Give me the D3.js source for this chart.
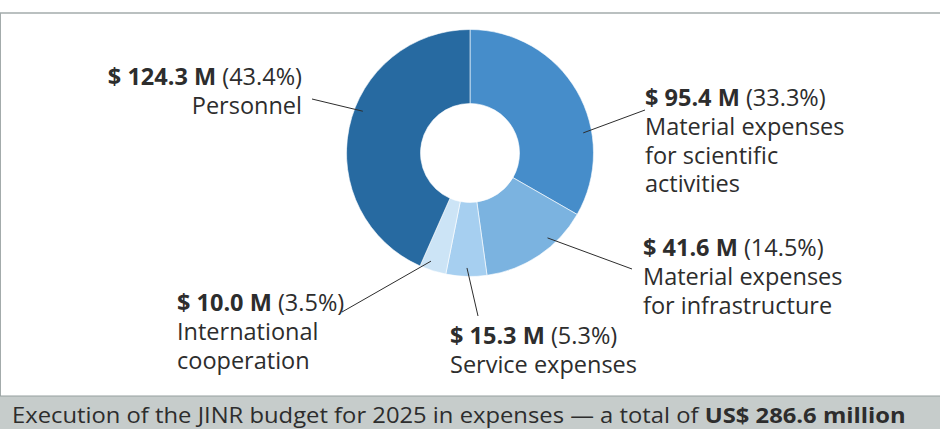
<!DOCTYPE html>
<html>
<head>
<meta charset="utf-8">
<script src="https://cdn.jsdelivr.net/npm/d3@7"></script>
<style>
  html, body { margin: 0; padding: 0; background: #fff; }
  svg { display: block; }
  text { font-family: "Open Sans", sans-serif; fill: #2d2d2d; }
</style>
</head>
<body>
<svg id="chart" width="940" height="429"></svg>
<script>
// Budget execution by expense category, US$ million (clockwise from 12 o'clock)
const categories = ["scientific", "infrastructure", "service", "international", "personnel"];
const values = [95.4, 41.6, 15.3, 10.0, 124.3];
const shares = ["33.3%", "14.5%", "5.3%", "3.5%", "43.4%"];
const valueLabels = ["$ 95.4 M", "$ 41.6 M", "$ 15.3 M", "$ 10.0 M", "$ 124.3 M"];
const nameLines = [
  ["Material expenses", "for scientific", "activities"],
  ["Material expenses", "for infrastructure"],
  ["Service expenses"],
  ["International", "cooperation"],
  ["Personnel"]
];
const colors = ["#468dca", "#7bb3e0", "#a6cff0", "#cce4f6", "#276aa1"];
const captionText = "Execution of the JINR budget for 2025 in expenses \u2014 a total of ";
const captionBold = "US$ 286.6 million";

// Label placement: text anchor point, leader-line outer end, and where along the slice the line meets the ring
const labelLayout = [
  { x: 645, y: 106, anchor: "start", lineEnd: [645, 110], along: 0.667 },
  { x: 643, y: 256, anchor: "start", lineEnd: [632, 269], along: 0.34 },
  { x: 450, y: 344, anchor: "start", lineEnd: [478, 316], along: 0.49 },
  { x: 177, y: 311, anchor: "start", lineEnd: [342, 312], along: 0.68 },
  { x: 302, y: 85,  anchor: "end",   lineEnd: [312, 99],  along: 0.56 }
];

const svg = d3.select("#chart");
const W = 940, H = 429;
const cx = 470, cy = 153;
const outerR = 123.5, innerR = 49.5, leaderR = 115;
const lineH = 28.8;
const labelSize = "23.5px";

// frame
svg.append("line").attr("x1", 0).attr("x2", W).attr("y1", 13).attr("y2", 13)
  .attr("stroke", "#a3abab").attr("stroke-width", 1.5);
svg.append("line").attr("x1", 0.5).attr("x2", 0.5).attr("y1", 13).attr("y2", 396)
  .attr("stroke", "#a3abab").attr("stroke-width", 1);

// donut
const pie = d3.pie().sort(null).value(d => d)(values);
const arc = d3.arc().innerRadius(innerR).outerRadius(outerR);
const g = svg.append("g").attr("transform", `translate(${cx},${cy})`);
g.selectAll("path").data(pie).join("path")
  .attr("d", arc)
  .attr("fill", (d, i) => colors[i])
  .attr("stroke", "#ffffff")
  .attr("stroke-width", 0.6);

// leader lines
pie.forEach((d, i) => {
  const L = labelLayout[i];
  const a = d.startAngle + (d.endAngle - d.startAngle) * L.along;
  const px = cx + leaderR * Math.sin(a);
  const py = cy - leaderR * Math.cos(a);
  svg.append("line")
    .attr("x1", px).attr("y1", py)
    .attr("x2", L.lineEnd[0]).attr("y2", L.lineEnd[1])
    .attr("stroke", "#2d2d2d").attr("stroke-width", 1);
});

// labels: value + share on the first line, category name below
categories.forEach((c, i) => {
  const L = labelLayout[i];
  const t = svg.append("text")
    .attr("x", L.x).attr("y", L.y)
    .attr("text-anchor", L.anchor)
    .style("font-size", labelSize);
  t.append("tspan").attr("font-weight", 700).text(valueLabels[i] + " ");
  t.append("tspan").attr("font-weight", 400).text("(" + shares[i] + ")");
  nameLines[i].forEach(ln => {
    t.append("tspan")
      .attr("x", L.x).attr("dy", lineH)
      .attr("font-weight", 400)
      .text(ln);
  });
});

// caption band
svg.append("rect").attr("x", 0).attr("y", 396).attr("width", W).attr("height", H - 396)
  .attr("fill", "#c6cccb");
svg.append("line").attr("x1", 0).attr("x2", W).attr("y1", 396).attr("y2", 396)
  .attr("stroke", "#95a0a0").attr("stroke-width", 1.2);
const cap = svg.append("text")
  .attr("x", 0).attr("y", 0)
  .style("font-size", "22px");
cap.append("tspan").attr("font-weight", 400).text(captionText);
cap.append("tspan").attr("font-weight", 700).text(captionBold);
const capW = cap.node().getComputedTextLength();
const targetW = 906 - 12;
cap.attr("transform", `translate(12,423) scale(${targetW / capW},1)`);
</script>
</body>
</html>
